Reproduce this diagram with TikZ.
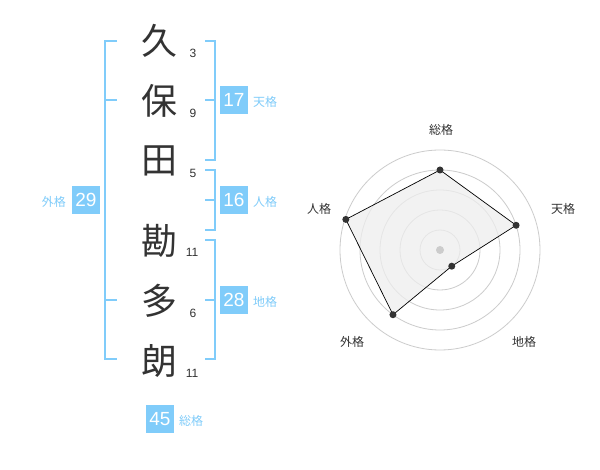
\documentclass[tikz,border=0pt]{standalone}
\usepackage{fontspec}
\setmainfont{Liberation Sans}
\newfontfamily\cjk{Noto Sans CJK JP}
\usetikzlibrary{calc}
\definecolor{kblue}{HTML}{80CCFA}
\definecolor{kdark}{HTML}{333333}
\definecolor{kgrid}{HTML}{CCCCCC}
\definecolor{kfill}{HTML}{EEEEEE}
\begin{document}
\begin{tikzpicture}[x=1pt,y=-1pt,
  kanji/.style={font=\cjk\fontsize{36}{36}\selectfont, text=kdark, inner sep=0pt},
  strokes/.style={font=\fontsize{12}{12}\selectfont, text=kdark, inner sep=0pt},
  kbox/.style={fill=kblue, text=white, minimum size=28pt, inner sep=0pt, font=\fontsize{19}{19}\selectfont},
  klabel/.style={font=\cjk\fontsize{12}{12}\selectfont, text=kblue, inner sep=0pt},
  bracket/.style={draw=kblue, line width=1.7pt},
  rlabel/.style={font=\cjk\fontsize{12}{12}\selectfont, text=kdark, inner sep=0pt},
  gridc/.style={draw=kgrid, line width=0.8pt},
  vdot/.style={circle, fill=kdark, inner sep=0pt, minimum size=7pt}
]
\useasboundingbox[fill=white] (0,0) rectangle (600,470);

% name characters
\node[kanji] (c1) at (159,41) {久};
\node[kanji] (c2) at (159,101) {保};
\node[kanji] (c3) at (159,161) {田};
\node[kanji] (c4) at (159,241) {勘};
\node[kanji] (c5) at (159,301) {多};
\node[kanji] (c6) at (159,361) {朗};
% stroke counts
\node[strokes] (s1) at (193,53) {3};
\node[strokes] (s2) at (193,113) {9};
\node[strokes] (s3) at (193,173) {5};
\node[strokes] (s4) at (192,252) {11};
\node[strokes] (s5) at (193,313) {6};
\node[strokes] (s6) at (192,373) {11};

% brackets
\draw[bracket] (117,41) -- (105,41) -- (105,359) -- (117,359);
\draw[bracket] (105,100) -- (117,100);
\draw[bracket] (105,300) -- (117,300);
\draw[bracket] (205,41) -- (215,41) -- (215,160) -- (205,160);
\draw[bracket] (205,100) -- (215,100);
\draw[bracket] (205,170) -- (215,170) -- (215,230) -- (205,230);
\draw[bracket] (205,200) -- (215,200);
\draw[bracket] (205,240) -- (215,240) -- (215,359) -- (205,359);
\draw[bracket] (205,300) -- (215,300);

% score boxes
\node[kbox] (ten) at (234,100) {17};
\node[klabel, anchor=west] (tenl) at (253,102) {天格};
\node[kbox] (jin) at (234,200) {16};
\node[klabel, anchor=west] (jinl) at (253,202) {人格};
\node[kbox] (chi) at (234,300) {28};
\node[klabel, anchor=west] (chil) at (253,302) {地格};
\node[kbox] (gai) at (86,200) {29};
\node[klabel, anchor=east] (gail) at (66,202) {外格};
\node[kbox] (sou) at (160,419) {45};
\node[klabel, anchor=west] (soul) at (179,421) {総格};

% radar chart
\coordinate (ctr) at (440,250);
\foreach \r in {20,40,60,80,100} \draw[gridc] (ctr) circle[radius=\r pt];
\coordinate (pS) at ($(ctr)+(90:80pt)$);
\coordinate (pT) at ($(ctr)+(18:80pt)$);
\coordinate (pC) at ($(ctr)+(-54:20pt)$);
\coordinate (pG) at ($(ctr)+(-126:80pt)$);
\coordinate (pJ) at ($(ctr)+(162:99pt)$);
\fill[kfill, fill opacity=0.75] (pS) -- (pT) -- (pC) -- (pG) -- (pJ) -- cycle;
\draw[black, line width=0.7pt] (pS) -- (pT) -- (pC) -- (pG) -- (pJ) -- cycle;
\node[circle, fill=kgrid, inner sep=0pt, minimum size=8pt] (cdot) at (ctr) {};
\foreach \p in {pS,pT,pC,pG,pJ} \node[vdot] at (\p) {};
\node[rlabel] (lS) at (441,130) {総格};
\node[rlabel] (lT) at (563,209) {天格};
\node[rlabel] (lC) at (524,342) {地格};
\node[rlabel] (lG) at (352,342) {外格};
\node[rlabel] (lJ) at (319,209) {人格};
\end{tikzpicture}
\end{document}
